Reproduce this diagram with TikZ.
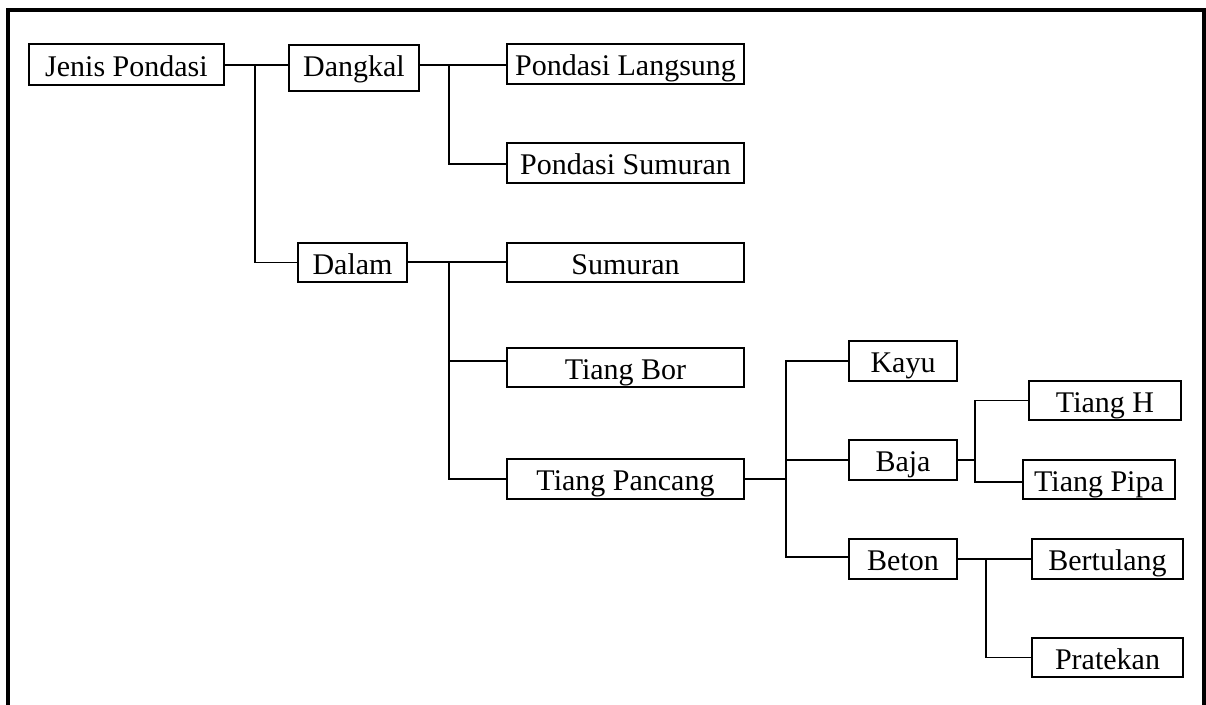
\documentclass[tikz,border=0pt]{standalone}
\usepackage{fontspec}
\setmainfont{Liberation Serif}
\begin{document}
\begin{tikzpicture}[x=1pt,y=-1pt,
  box/.style={draw,line width=1.3pt,inner sep=0pt,minimum height=40pt,
    font=\fontsize{30}{36}\selectfont,text height=26pt,text depth=3pt},
  ln/.style={line width=1.5pt}]
\useasboundingbox (0,0) rectangle (1206,704);
% frame (open at the bottom)
\draw[line width=4pt,line join=miter] (8,720) -- (8,9.5) -- (1203.5,9.5) -- (1203.5,720);
% nodes
\node[box,minimum width=195pt,minimum height=41pt] (jp) at (126.5,64.5) {Jenis Pondasi};
\node[box,minimum width=130pt,minimum height=46pt,text height=23pt,text depth=6pt] (dk) at (354,68) {Dangkal};
\node[box,minimum width=237pt] (pl) at (625.5,64) {Pondasi Langsung};
\node[box,minimum width=237pt] (ps) at (625.5,163) {Pondasi Sumuran};
\node[box,minimum width=109pt,minimum height=39pt] (dl) at (352.5,262.5) {Dalam};
\node[box,minimum width=237pt,minimum height=39pt] (su) at (625.5,262.5) {Sumuran};
\node[box,minimum width=237pt,minimum height=39pt] (tb) at (625.5,367.5) {Tiang Bor};
\node[box,minimum width=237pt] (tp) at (625.5,479) {Tiang Pancang};
\node[box,minimum width=108pt] (ky) at (903,361) {Kayu};
\node[box,minimum width=108pt] (bj) at (903,460) {Baja};
\node[box,minimum width=108pt] (bt) at (903,559) {Beton};
\node[box,minimum width=152pt,minimum height=39pt] (th) at (1105,400.5) {Tiang H};
\node[box,minimum width=152pt,minimum height=39pt] (tpi) at (1099,479.5) {Tiang Pipa};
\node[box,minimum width=151pt] (bu) at (1107.5,559) {Bertulang};
\node[box,minimum width=151pt,minimum height=39pt] (pr) at (1107.5,657.5) {Pratekan};
% junction coordinates
\coordinate (j1) at (255,65);
\coordinate (j2) at (449,65);
\coordinate (j3) at (449,262);
\coordinate (j4) at (786,479);
\coordinate (j5) at (975,460);
\coordinate (j6) at (986,559);
% connectors
\draw[ln] (j1 -| jp.east) -- (j1 -| dk.west);
\draw[ln] (j1) |- (dl.west);
\draw[ln] (j2 -| dk.east) -- (j2 -| pl.west);
\draw[ln] (j2) |- ([yshift=-1pt]ps.west);
\draw[ln] (j3 -| dl.east) -- (j3 -| su.west);
\draw[ln] (j3) |- ([yshift=6.5pt]tb.west);
\draw[ln] (j3) |- (tp.west);
\draw[ln] (tp.east) -- (j4);
\draw[ln] (j4) |- (ky.west);
\draw[ln] (j4) |- (bj.west);
\draw[ln] (j4) |- ([yshift=2pt]bt.west);
\draw[ln] (bj.east) -- (j5);
\draw[ln] (j5) |- (th.west);
\draw[ln] (j5) |- ([yshift=-2.5pt]tpi.west);
\draw[ln] (bt.east) -- (bu.west);
\draw[ln] (j6) |- (pr.west);
\end{tikzpicture}
\end{document}
